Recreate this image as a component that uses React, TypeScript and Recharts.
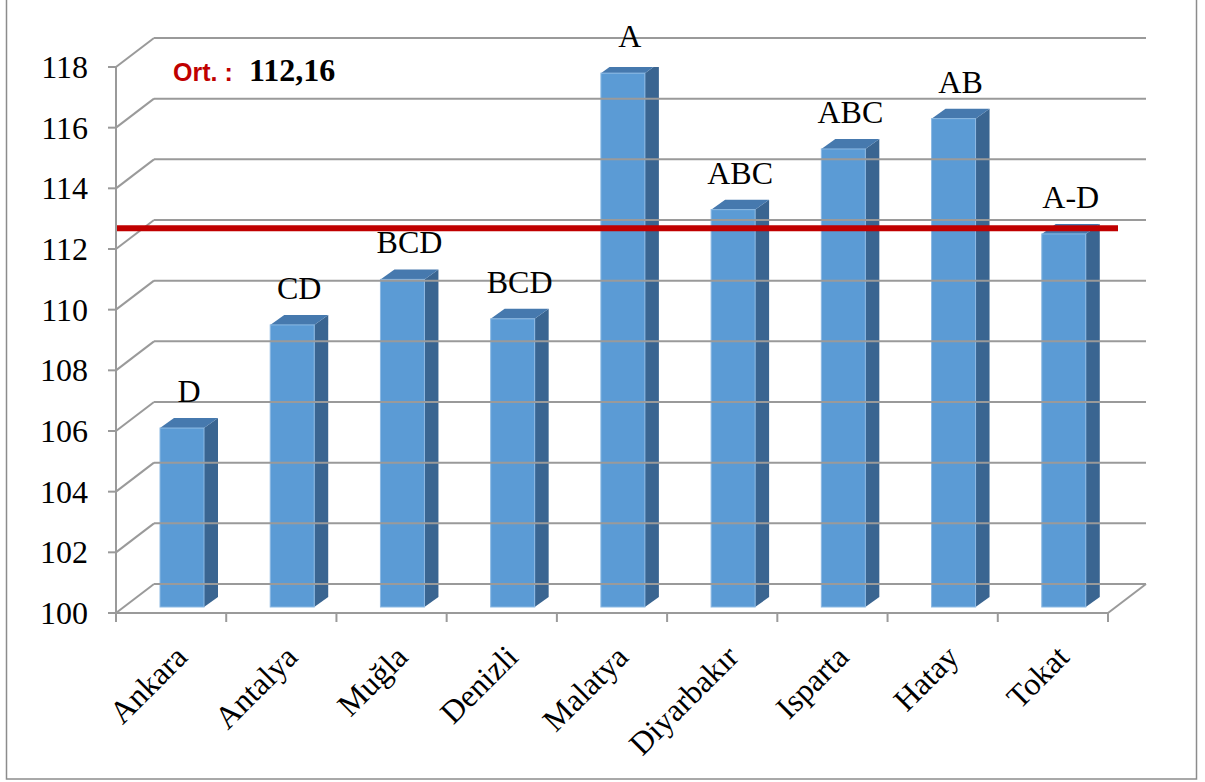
import React from "react";
import { BarChart, Bar, XAxis, YAxis, ReferenceLine, LabelList } from "recharts";

const cities = ["Ankara", "Antalya", "Muğla", "Denizli", "Malatya", "Diyarbakır", "Isparta", "Hatay", "Tokat"];
const values = [105.9, 109.3, 110.8, 109.5, 117.6, 113.1, 115.1, 116.1, 112.3];
const groups = ["D", "CD", "BCD", "BCD", "A", "ABC", "ABC", "AB", "A-D"];
const yTicks = [100, 102, 104, 106, 108, 110, 112, 114, 116, 118];
const mean = 112.16;

const data = cities.map((city, i) => ({ city, value: values[i], group: groups[i] }));

// pseudo-3D depth of the chart box and of each column
const DEPTH_X = 38;
const DEPTH_Y = -29;
const BAR_DX = 14;
const BAR_DY = -10;
const BAR_SHIFT_X = 11;
const BAR_SHIFT_Y = -6;

const GRID = "#9a9a9a";
const SERIF = "'Liberation Serif', 'Times New Roman', serif";

function WallLine(props: any) {
  const { x1, y1, x2, value } = props;
  const bx = x1 + DEPTH_X;
  const by = y1 + DEPTH_Y;
  return (
    <g>
      <line x1={x1} y1={y1} x2={bx} y2={by} stroke={GRID} strokeWidth={2} />
      <line x1={bx} y1={by} x2={x2 + DEPTH_X} y2={by} stroke={GRID} strokeWidth={2} />
      {value === yTicks[0] && (
        <line x1={x2} y1={y1} x2={x2 + DEPTH_X} y2={by} stroke={GRID} strokeWidth={2} />
      )}
    </g>
  );
}

function MeanLine(props: any) {
  const { x1, y1, x2 } = props;
  const y = y1 + DEPTH_Y * 0.55;
  return <line x1={x1} y1={y} x2={x2 + 10} y2={y} stroke="#c00000" strokeWidth={6} />;
}

function Column3D(props: any) {
  const { x, y, width, height } = props;
  if (height == null || height <= 0) return null;
  const fx = x + BAR_SHIFT_X;
  const top = y + BAR_SHIFT_Y;
  const bottom = y + height + BAR_SHIFT_Y;
  const rx = fx + width;
  return (
    <g>
      <polygon
        points={`${rx},${top} ${rx + BAR_DX},${top + BAR_DY} ${rx + BAR_DX},${bottom + BAR_DY} ${rx},${bottom}`}
        fill="#3a6591"
      />
      <polygon
        points={`${fx},${top} ${fx + BAR_DX},${top + BAR_DY} ${rx + BAR_DX},${top + BAR_DY} ${rx},${top}`}
        fill="#4679ae"
      />
      <rect x={fx} y={top} width={width} height={bottom - top} fill="#5b9bd5" stroke="#8cb9e3" strokeWidth={1} />
    </g>
  );
}

function GroupLabel(props: any) {
  const { x, y, width, value } = props;
  return (
    <text
      x={x + BAR_SHIFT_X + width / 2 + BAR_DX / 2}
      y={y + BAR_SHIFT_Y - 26}
      textAnchor="middle"
      fontFamily={SERIF}
      fontSize={32}
      fill="#000"
    >
      {value}
    </text>
  );
}

function ValueTick(props: any) {
  const { x, y, payload } = props;
  return (
    <text x={x} y={y + 11} textAnchor="end" fontFamily={SERIF} fontSize={32} fill="#000">
      {payload.value}
    </text>
  );
}

function CityTick(props: any) {
  const { x, y, payload, index } = props;
  const half = payload?.offset ?? 55;
  const lx = x + 18;
  const ly = y + 46;
  return (
    <g>
      <line x1={x - half} y1={y} x2={x - half} y2={y + 9} stroke={GRID} strokeWidth={2} />
      {index === cities.length - 1 && (
        <line x1={x + half} y1={y} x2={x + half} y2={y + 9} stroke={GRID} strokeWidth={2} />
      )}
      <text
        x={lx}
        y={ly}
        textAnchor="end"
        fontFamily={SERIF}
        fontSize={32}
        fill="#000"
        transform={`rotate(-45, ${lx}, ${ly})`}
      >
        {payload.value}
      </text>
    </g>
  );
}

export default function App() {
  const meanText = mean.toFixed(2).replace(".", ",");
  return (
    <div style={{ position: "absolute", left: 0, top: 0, width: 1205, height: 782, background: "#fff" }}>
      <svg width={1205} height={782} style={{ position: "absolute", left: 0, top: 0 }}>
        <rect x={6.5} y={-2} width={1190} height={781} fill="none" stroke="#8c8c8c" strokeWidth={1.5} />
      </svg>
      <div style={{ position: "absolute", left: 0, top: 0 }}>
        <BarChart
          width={1205}
          height={782}
          data={data}
          margin={{ top: 67, right: 97, left: 0, bottom: 0 }}
          barSize={44}
        >
          <XAxis
            dataKey="city"
            height={169}
            interval={0}
            tickSize={0}
            tickMargin={0}
            tickLine={false}
            axisLine={{ stroke: GRID, strokeWidth: 2 }}
            tick={<CityTick />}
          />
          <YAxis
            type="number"
            domain={[100, 118]}
            ticks={yTicks}
            width={116}
            tickSize={8}
            tickMargin={20}
            allowDataOverflow
            axisLine={{ stroke: GRID, strokeWidth: 2 }}
            tickLine={{ stroke: GRID, strokeWidth: 2 }}
            tick={<ValueTick />}
          />
          {yTicks.map((t) => (
            <ReferenceLine key={t} y={t} shape={(p: any) => <WallLine {...p} value={t} />} />
          ))}
          <Bar dataKey="value" shape={<Column3D />} isAnimationActive={false}>
            <LabelList dataKey="group" content={<GroupLabel />} />
          </Bar>
          <ReferenceLine y={mean} shape={<MeanLine />} />
          <text x={173} y={81}>
            <tspan fontFamily="'Liberation Sans', Arial, sans-serif" fontWeight="bold" fontSize={25} fill="#c00000">
              Ort. :
            </tspan>
            <tspan x={249} fontFamily={SERIF} fontWeight="bold" fontSize={32} fill="#000">
              {meanText}
            </tspan>
          </text>
        </BarChart>
      </div>
    </div>
  );
}
